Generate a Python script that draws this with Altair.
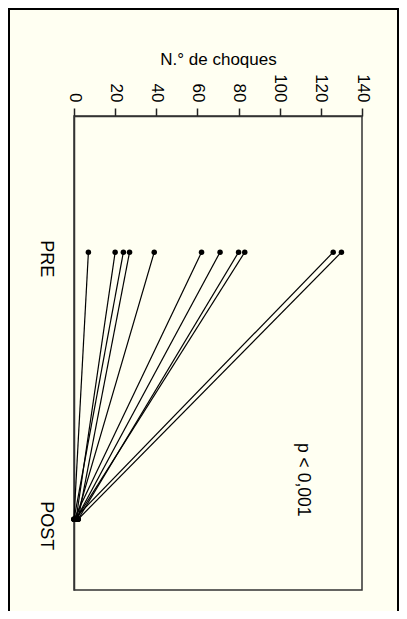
import altair as alt
import pandas as pd

# Data read from the (rotated) slope chart
pacientes = ["P1", "P2", "P3", "P4", "P5", "P6", "P7", "P8", "P9", "P10", "P11"]
choques_pre = [7, 20, 24, 27, 39, 62, 71, 80, 83, 126, 130]
choques_post = [0, 1, 0, 2, 1, 0, 1, 2, 1, 0, 2]
fases = ["PRE", "POST"]
fase_pos = [1, 2]
p_texto = ["p < 0,001"]

rows = []
for pid, a, b in zip(pacientes, choques_pre, choques_post):
    rows.append({"paciente": pid, "fase": fases[0], "pos": fase_pos[0], "choques": a})
    rows.append({"paciente": pid, "fase": fases[1], "pos": fase_pos[1], "choques": b})
df = pd.DataFrame(rows)

FONT = "Liberation Sans"
BG = "#fffff2"

x_enc = alt.X(
    "choques:Q",
    scale=alt.Scale(domain=[0, 140], nice=False, zero=True),
    axis=alt.Axis(
        orient="top",
        values=[0, 20, 40, 60, 80, 100, 120, 140],
        title="N.° de choques",
        titleFont=FONT,
        titleFontSize=17,
        titleFontWeight="normal",
        titleColor="black",
        titleBaseline="alphabetic",
        titleY=-52,
        labelAngle=90,
        labelAlign="right",
        labelBaseline="middle",
        labelFont=FONT,
        labelFontSize=17,
        labelColor="black",
        labelPadding=6,
        tickSize=8,
        tickColor="#222",
        tickWidth=1.5,
        domainColor="#333",
        domainWidth=1.5,
        grid=False,
    ),
)

y_enc = alt.Y(
    "pos:Q",
    scale=alt.Scale(domain=[0.49, 2.265], nice=False, zero=False, reverse=True),
    axis=alt.Axis(
        orient="left",
        values=fase_pos,
        labelExpr="datum.value == 1 ? 'PRE' : 'POST'",
        title=None,
        ticks=False,
        labelAngle=90,
        labelAlign="center",
        labelBaseline="top",
        labelPadding=20,
        labelOffset=6,
        labelFont=FONT,
        labelFontSize=18,
        labelColor="black",
        domainColor="#333",
        domainWidth=1.5,
        grid=False,
    ),
)

lines = alt.Chart(df).mark_line(color="black", strokeWidth=1.2).encode(
    x=x_enc, y=y_enc, detail="paciente:N"
)
points = alt.Chart(df).mark_circle(color="black", size=30, opacity=1).encode(
    x="choques:Q", y="pos:Q"
)

txt_df = pd.DataFrame({"texto": p_texto, "x": [109], "y": [1.852]})
ptext = alt.Chart(txt_df).mark_text(
    angle=90, align="center", baseline="alphabetic", font=FONT, fontSize=17.5, color="black"
).encode(x="x:Q", y="y:Q", text="texto:N")

frame = alt.Chart(txt_df).mark_rect(
    filled=False, stroke="black", strokeWidth=2, clip=False
).encode(
    x=alt.value(-65), x2=alt.value(288 + 36), y=alt.value(-107), y2=alt.value(474 + 40)
)

chart = (
    alt.layer(frame, lines, points, ptext)
    .properties(
        width=288,
        height=474,
        autosize=alt.AutoSizeParams(type="none"),
        padding={"left": 66, "top": 108, "right": 37, "bottom": 21},
        background=BG,
    )
    .configure_view(stroke="#333", strokeWidth=1.5, fill=BG)
)

chart.save("out.html", embed_options={"renderer": "svg", "actions": False})
